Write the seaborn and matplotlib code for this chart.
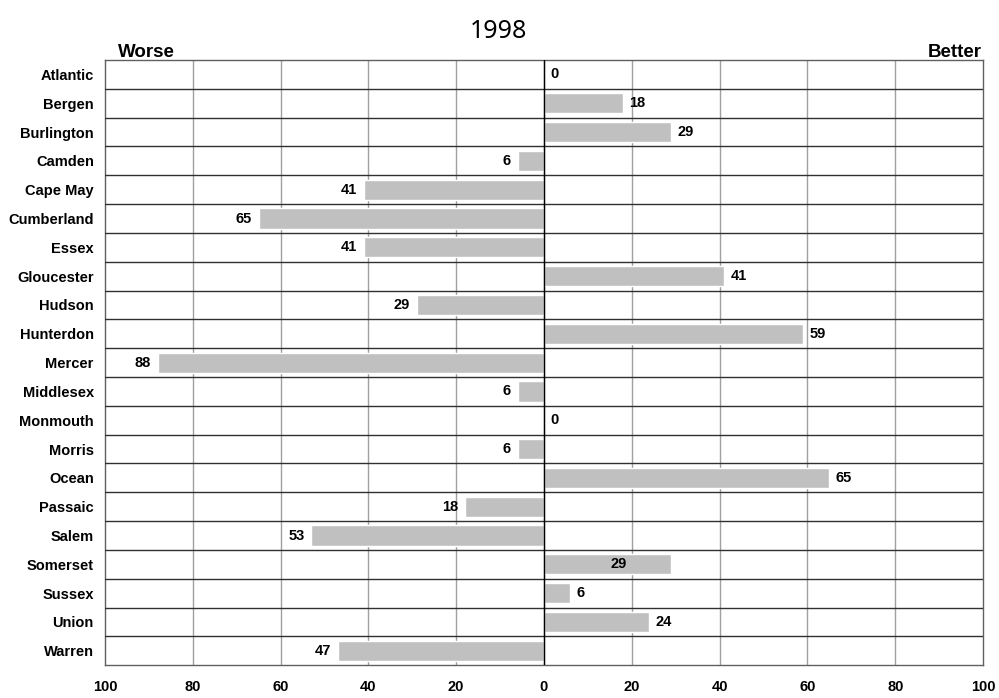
import pandas as pd
import seaborn as sns
from matplotlib import pyplot as plt
from matplotlib.ticker import FixedLocator, FuncFormatter

counties = ['Atlantic', 'Bergen', 'Burlington', 'Camden', 'Cape May', 'Cumberland',
            'Essex', 'Gloucester', 'Hudson', 'Hunterdon', 'Mercer', 'Middlesex',
            'Monmouth', 'Morris', 'Ocean', 'Passaic', 'Salem', 'Somerset',
            'Sussex', 'Union', 'Warren']
scores = [0, 18, 29, -6, -41, -65, -41, 41, -29, 59, -88, -6,
          0, -6, 65, -18, -53, 29, 6, 24, -47]
x_ticks = [-100, -80, -60, -40, -20, 0, 20, 40, 60, 80, 100]

df = pd.DataFrame({'county': counties, 'score': scores})

sns.set_style('white')
plt.rcParams['font.family'] = ['Liberation Sans', 'DejaVu Sans']
plt.rcParams['text.color'] = 'black'
plt.rcParams['xtick.color'] = 'black'
plt.rcParams['ytick.color'] = 'black'

fig = plt.figure(figsize=(9.99, 6.98), dpi=100)
ax = fig.add_axes([0.105, 0.047, 0.879, 0.867])

sns.barplot(data=df, x='score', y='county', orient='h', color='#c0c0c0',
            width=0.7, saturation=1, ax=ax)

ax.set_xlim(-100, 100)
ax.set_ylim(len(counties) - 0.5, -0.5)

# grid: gray verticals, dark row separators
for xv in x_ticks[1:-1]:
    ax.axvline(xv, color='#a0a0a0', lw=1, zorder=0)
for i in range(1, len(counties)):
    ax.axhline(i - 0.5, color='#303030', lw=1, zorder=3)
ax.axvline(0, color='black', lw=1, zorder=4)
for s in ax.spines.values():
    s.set_visible(True)
    s.set_color('#606060')
    s.set_linewidth(1)

ax.xaxis.set_major_locator(FixedLocator(x_ticks))
ax.xaxis.set_major_formatter(FuncFormatter(lambda v, p: f'{abs(int(v))}'))
ax.tick_params(axis='x', length=0, pad=11, labelsize=10.5)
ax.tick_params(axis='y', length=0, pad=8, labelsize=10.5)
for lab in ax.get_xticklabels() + ax.get_yticklabels():
    lab.set_fontweight('bold')
ax.set_xlabel('')
ax.set_ylabel('')

# value labels
for i, (c, v) in enumerate(zip(counties, scores)):
    if c == 'Somerset':
        ax.text(17, i, f'{v}', ha='center', va='center', fontsize=10.5, fontweight='bold', zorder=5)
    elif v >= 0:
        ax.text(v + 1.5, i, f'{v}', ha='left', va='center', fontsize=10.5, fontweight='bold', zorder=5)
    else:
        ax.text(v - 1.5, i, f'{abs(v)}', ha='right', va='center', fontsize=10.5, fontweight='bold', zorder=5)

fig.text(0.499, 0.955, '1998', ha='center', va='center', fontsize=18, family='Noto Sans')
fig.text(0.118, 0.925, 'Worse', ha='left', va='center', fontsize=13.5, fontweight='bold')
fig.text(0.983, 0.925, 'Better', ha='right', va='center', fontsize=13.5, fontweight='bold')

fig.savefig('out.png', dpi=100)
